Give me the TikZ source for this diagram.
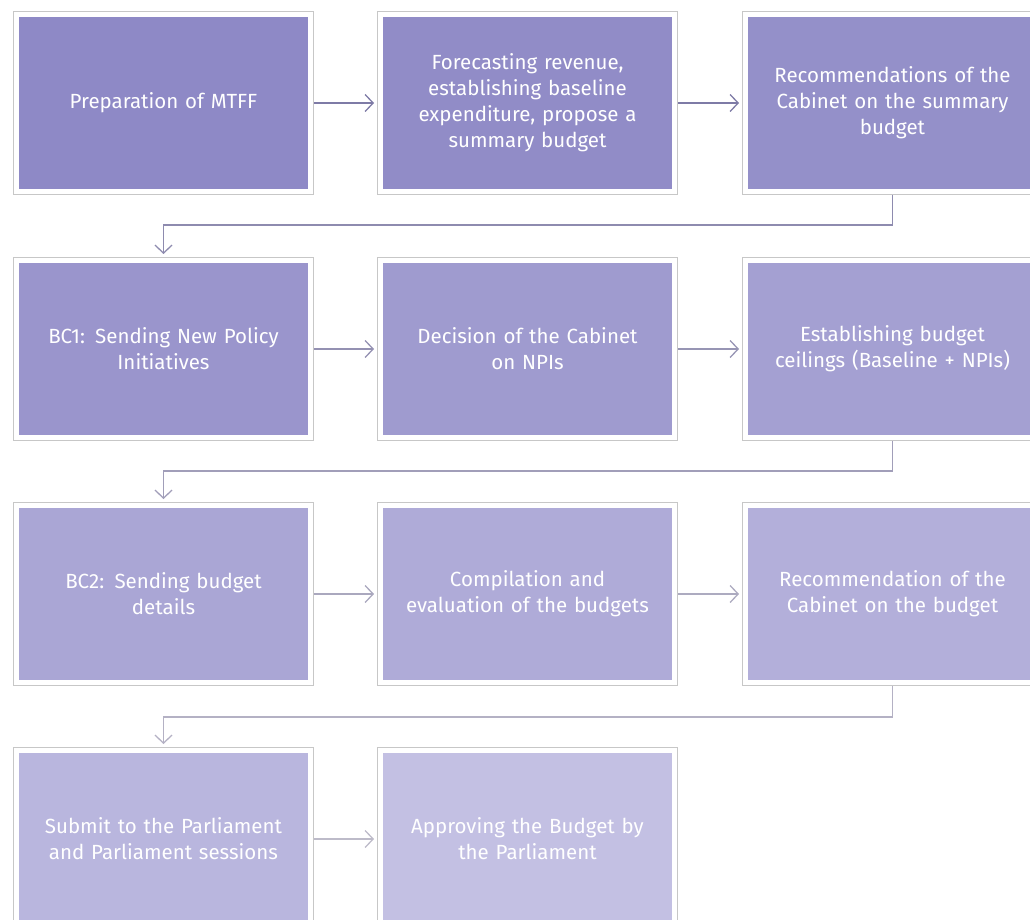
\documentclass[tikz,border=0pt]{standalone}
\usepackage{fontspec}
\setsansfont{Fira Sans}
\usepackage{tikz}
\usetikzlibrary{arrows.meta}

\definecolor{stagedark}{HTML}{8E89C6}
\definecolor{stagelight}{HTML}{C3C0E3}
\definecolor{linkdark}{HTML}{7E7BA6}
\definecolor{linklight}{HTML}{BDBBC9}

\begin{document}
\begin{tikzpicture}[x=1pt,y=1pt,
  stage/.style={fill=#1, draw=white, line width=5pt,
    preaction={draw=black!22, line width=7pt},
    minimum width=294pt, minimum height=177pt, inner sep=0pt, outer sep=3.5pt,
    text width=280pt, align=center, text=white,
    font=\sffamily\fontsize{20.5}{26}\selectfont},
  flow/.style={draw=#1, line width=1.6pt, shorten >=3pt,
    -{Straight Barb[length=8pt,width=17pt,line width=1.3pt]}}]
\clip (0,0) rectangle (1030,-920);
\useasboundingbox (0,0) rectangle (1030,-920);
% row 1
\node[stage=stagedark] (mtff) at (163.5,-103) {Preparation of MTFF};
\node[stage=stagelight!5!stagedark] (forecast) at (527.5,-103) {Forecasting revenue,\\ establishing baseline\\ expenditure, propose a\\ summary budget};
\node[stage=stagelight!12!stagedark] (summary) at (892.5,-103) {Recommendations of the\\ Cabinet on the summary\\ budget};
% row 2
\node[stage=stagelight!22!stagedark] (bcone) at (163.5,-349) {BC1: Sending New Policy\\ Initiatives};
\node[stage=stagelight!32!stagedark] (npis) at (527.5,-349) {Decision of the Cabinet\\ on NPIs};
\node[stage=stagelight!42!stagedark] (ceilings) at (892.5,-349) {Establishing budget\\ ceilings (Baseline + NPIs)};
% row 3
\node[stage=stagelight!52!stagedark] (bctwo) at (163.5,-594) {BC2: Sending budget\\ details};
\node[stage=stagelight!62!stagedark] (compile) at (527.5,-594) {Compilation and\\ evaluation of the budgets};
\node[stage=stagelight!70!stagedark] (cabinet) at (892.5,-594) {Recommendation of the\\ Cabinet on the budget};
% row 4
\node[stage=stagelight!82!stagedark] (submit) at (163.5,-839) {Submit to the Parliament\\ and Parliament sessions};
\node[stage=stagelight] (approve) at (527.5,-839) {Approving the Budget by\\ the Parliament};
% connectors
\draw[flow=linkdark] (mtff) -- (forecast);
\draw[flow=linkdark] (forecast) -- (summary);
\draw[flow=linklight!25!linkdark] (summary.south) -- ++(0,-30) -| (bcone.north);
\draw[flow=linklight!35!linkdark] (bcone) -- (npis);
\draw[flow=linklight!40!linkdark] (npis) -- (ceilings);
\draw[flow=linklight!55!linkdark] (ceilings.south) -- ++(0,-30) -| (bctwo.north);
\draw[flow=linklight!70!linkdark] (bctwo) -- (compile);
\draw[flow=linklight!75!linkdark] (compile) -- (cabinet);
\draw[flow=linklight!85!linkdark] (cabinet.south) -- ++(0,-31) -| (submit.north);
\draw[flow=linklight] (submit) -- (approve);
\end{tikzpicture}
\end{document}
